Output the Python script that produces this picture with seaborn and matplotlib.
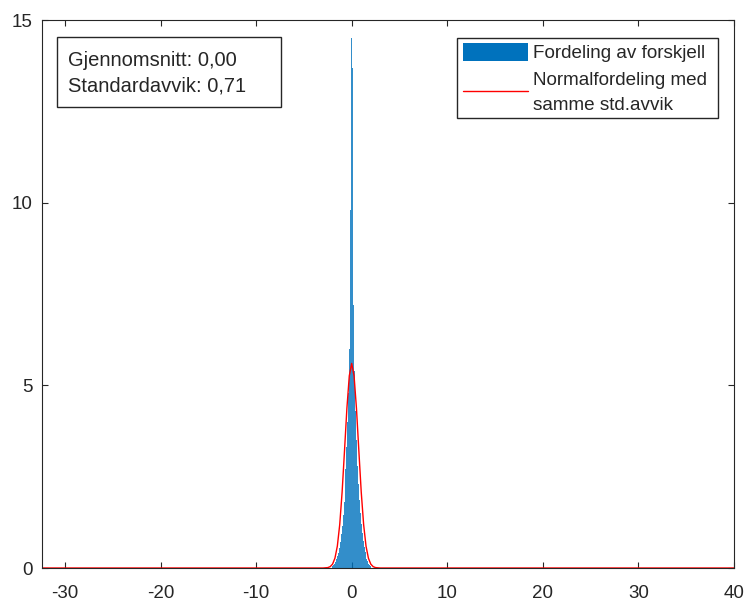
import matplotlib
matplotlib.use('Agg')
import matplotlib.pyplot as plt
import seaborn as sns
from matplotlib.patches import Rectangle
from matplotlib.lines import Line2D

# histogram: bin centres (width 0.1) and bar heights
bin_centers = [-2.0, -1.9, -1.8, -1.7, -1.6, -1.5, -1.4, -1.3, -1.2, -1.1,
               -1.0, -0.9, -0.8, -0.7, -0.6, -0.5, -0.4, -0.3, -0.2, -0.1,
               0.0, 0.1, 0.2, 0.3, 0.4, 0.5, 0.6, 0.7, 0.8, 0.9,
               1.0, 1.1, 1.2, 1.3, 1.4, 1.5, 1.6, 1.7, 1.8, 1.9, 2.0]
bin_heights = [0.05, 0.08, 0.12, 0.17, 0.24, 0.32, 0.42, 0.55, 0.72, 0.92,
               1.15, 1.45, 1.8, 2.2, 2.7, 3.3, 4.0, 4.8, 6.0, 9.8,
               14.5, 13.7, 7.2, 5.4, 4.3, 3.5, 2.8, 2.3, 1.85, 1.5,
               1.2, 0.95, 0.75, 0.58, 0.45, 0.34, 0.25, 0.18, 0.12, 0.08, 0.05]

# red normal curve
curve_x = [-32.4, -3.0, -2.5, -2.25, -2.0, -1.75, -1.5, -1.25, -1.0, -0.75, -0.5, -0.25,
           0.0, 0.25, 0.5, 0.75, 1.0, 1.25, 1.5, 1.75, 2.0, 2.25, 2.5, 3.0, 40.0]
curve_y = [0.0, 0.0, 0.011, 0.037, 0.106, 0.27, 0.60, 1.19, 2.08, 3.21, 4.37, 5.26,
           5.6, 5.26, 4.37, 3.21, 2.08, 1.19, 0.60, 0.27, 0.106, 0.037, 0.011, 0.0, 0.0]

x_ticks = [-30, -20, -10, 0, 10, 20, 30, 40]
y_ticks = [0, 5, 10, 15]
stats_text = 'Gjennomsnitt: 0,00\nStandardavvik: 0,71'
legend_lines = ['Fordeling av forskjell', 'Normalfordeling med', 'samme std.avvik']

sns.set_style('ticks')
plt.rcParams['font.family'] = ['Liberation Sans', 'DejaVu Sans']
plt.rcParams['axes.unicode_minus'] = False

fig = plt.figure(figsize=(7.44, 6.01), dpi=100)
ax = fig.add_axes([0.05645, 0.0549, 0.9301, 0.9118])

sns.histplot(x=bin_centers, weights=bin_heights, binwidth=0.1, binrange=(-2.05, 2.05),
             color='#0072BD', alpha=0.8, edgecolor='none', linewidth=0, ax=ax)
sns.lineplot(x=curve_x, y=curve_y, color='red', linewidth=1.0, ax=ax)

ax.set_xlim(-32.4, 40.0)
ax.set_ylim(0, 15)
ax.set_xticks(x_ticks)
ax.set_yticks(y_ticks)
ax.set_xlabel('')
ax.set_ylabel('')
ax.tick_params(direction='in', top=True, right=True, labelsize=13.5, length=4,
               width=0.8, color='#262626', labelcolor='#262626')
ax.tick_params(axis='x', pad=12)
ax.tick_params(axis='y', pad=7)
for s in ax.spines.values():
    s.set_visible(True)
    s.set_color('#262626')
    s.set_linewidth(0.8)

# text box (MATLAB annotation style, wider than its text)
ax.add_patch(Rectangle((0.0217, 0.841), 0.3237, 0.128, transform=ax.transAxes,
                       facecolor='white', edgecolor='#262626', linewidth=1.0, zorder=5))
ax.text(0.0376, 0.9033, stats_text, transform=ax.transAxes, fontsize=14.5,
        va='center', ha='left', linespacing=1.45, color='#262626', zorder=6)

# legend, drawn by hand so the spacing matches the MATLAB one
ax.add_patch(Rectangle((0.5997, 0.8212), 0.3772, 0.1465, transform=ax.transAxes,
                       facecolor='white', edgecolor='#262626', linewidth=1.0, zorder=5))
ax.add_patch(Rectangle((0.6084, 0.9252), 0.0939, 0.0328, transform=ax.transAxes,
                       facecolor='#0072BD', edgecolor='none', zorder=6))
ax.add_line(Line2D([0.6084, 0.7023], [0.8704, 0.8704], transform=ax.transAxes,
                   color='red', linewidth=1.0, zorder=6))
for txt, fy in zip(legend_lines, [0.938, 0.8905, 0.8449]):
    ax.text(0.7095, fy, txt, transform=ax.transAxes, fontsize=13.6,
            va='center', ha='left', color='#262626', zorder=6)

fig.savefig('out.png', dpi=100)
